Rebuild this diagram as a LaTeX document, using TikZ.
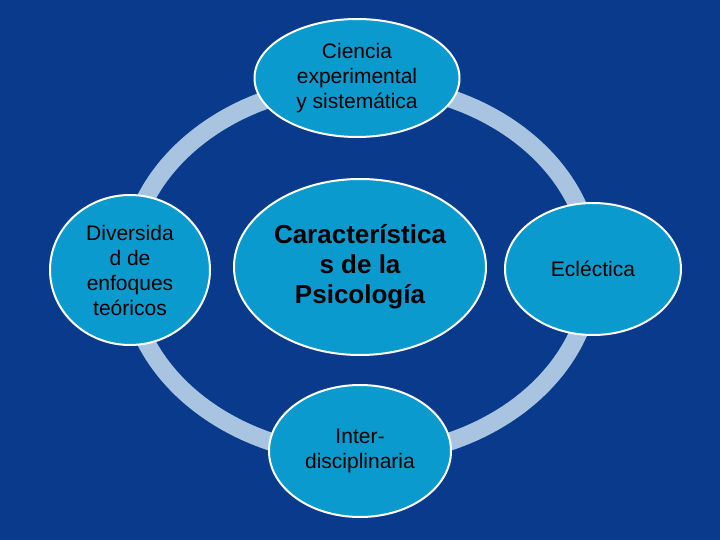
\documentclass[tikz,border=0pt]{standalone}
\usepackage{fontspec}
\setmainfont{Liberation Sans}
\usetikzlibrary{shapes.geometric}
\definecolor{bg}{HTML}{0A3A8C}
\definecolor{ring}{HTML}{A8C4E0}
\definecolor{nodefill}{HTML}{0A9ACD}
\begin{document}
\begin{tikzpicture}[x=1pt,y=-1pt,
  bub/.style={ellipse,draw=white,line width=2pt,fill=nodefill,inner sep=0pt,text=black,align=center,font=\fontsize{21}{25}\selectfont}]
\fill[bg] (0,0) rectangle (720,540);
\useasboundingbox (0,0) rectangle (720,540);
\draw[ring,line width=18pt] (360,270) ellipse [x radius=232,y radius=186];
\node[bub,minimum width=205pt,minimum height=118pt] (top) at (357,78) {Ciencia\\experimental\\y sistemática};
\node[bub,minimum width=160pt,minimum height=150pt] (left) at (130,270) {Diversida\\d de\\enfoques\\teóricos};
\node[bub,minimum width=252pt,minimum height=176pt,font=\bfseries\fontsize{26}{30}\selectfont] (c) at (360,267) {Característica\\s de la\\Psicología};
\node[bub,minimum width=176pt,minimum height=132pt] (right) at (593,269) {Ecléctica};
\node[bub,minimum width=182pt,minimum height=132pt] (bot) at (360,451) {Inter-\\disciplinaria};
\end{tikzpicture}
\end{document}
